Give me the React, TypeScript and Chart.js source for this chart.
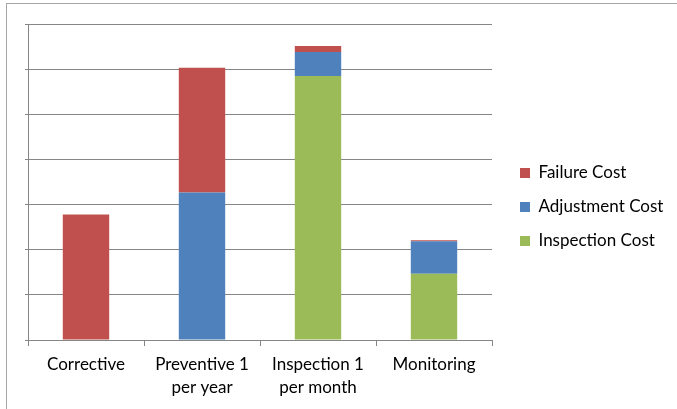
import React, { useEffect, useRef } from "react";
import { Chart, registerables } from "chart.js";

Chart.register(...registerables);

const categories: (string | string[])[] = [
  "Corrective",
  ["Preventive 1", "per year"],
  ["Inspection 1", "per month"],
  "Monitoring",
];
const inspectionCost = [0, 0, 5.85, 1.47];
const adjustmentCost = [0, 3.27, 0.53, 0.72];
const failureCost = [2.78, 2.76, 0.13, 0.02];

const FONT = "Lato, 'Liberation Sans', sans-serif";

const shiftLegend = {
  id: "shiftLegend",
  afterLayout(chart: any) {
    const l = chart.legend;
    if (!l) return;
    l.left += 11;
    l.right += 11;
    l.top -= 8;
    l.bottom -= 8;
  },
};

export default function App() {
  const ref = useRef<HTMLCanvasElement | null>(null);
  useEffect(() => {
    if (!ref.current) return;
    const chart = new Chart(ref.current, {
      type: "bar",
      data: {
        labels: categories,
        datasets: [
          { label: "Inspection Cost", data: inspectionCost, backgroundColor: "#9BBB59" },
          { label: "Adjustment Cost", data: adjustmentCost, backgroundColor: "#4F81BD" },
          { label: "Failure Cost", data: failureCost, backgroundColor: "#C0504D" },
        ],
      },
      plugins: [shiftLegend],
      options: {
        responsive: false,
        animation: false,
        layout: { padding: { left: 25, top: 24, right: 25, bottom: 3 } },
        datasets: { bar: { categoryPercentage: 1, barPercentage: 0.4 } },
        plugins: {
          tooltip: { enabled: false },
          legend: {
            position: "right",
            reverse: true,
            maxWidth: 160,
            labels: {
              boxWidth: 10,
              boxHeight: 10,
              padding: 17,
              color: "#000",
              font: { family: FONT, size: 17 },
            },
          },
        },
        scales: {
          x: {
            stacked: true,
            grid: { drawOnChartArea: false, drawTicks: true, tickLength: 6, color: "#868686", offset: true },
            border: { color: "#868686" },
            ticks: { color: "#000", font: { family: FONT, size: 17, lineHeight: 1.41 }, maxRotation: 0, padding: 6 },
          },
          y: {
            stacked: true,
            min: 0,
            max: 7,
            ticks: { display: false, stepSize: 1 },
            grid: { color: "#868686", drawTicks: true, tickLength: 3 },
            border: { color: "#868686" },
          },
        },
      },
    });
    return () => chart.destroy();
  }, []);
  return (
    <div style={{ position: "fixed", left: 0, top: 0, width: 677, height: 409, background: "#fff" }}>
      <div
        style={{
          position: "absolute",
          left: 6,
          top: 3,
          right: 0,
          bottom: 0,
          borderTop: "1px solid #a6a6a6",
          borderLeft: "1px solid #a6a6a6",
        }}
      />
      <canvas ref={ref} width={677} height={409} style={{ position: "absolute", left: 0, top: 0 }} />
    </div>
  );
}
